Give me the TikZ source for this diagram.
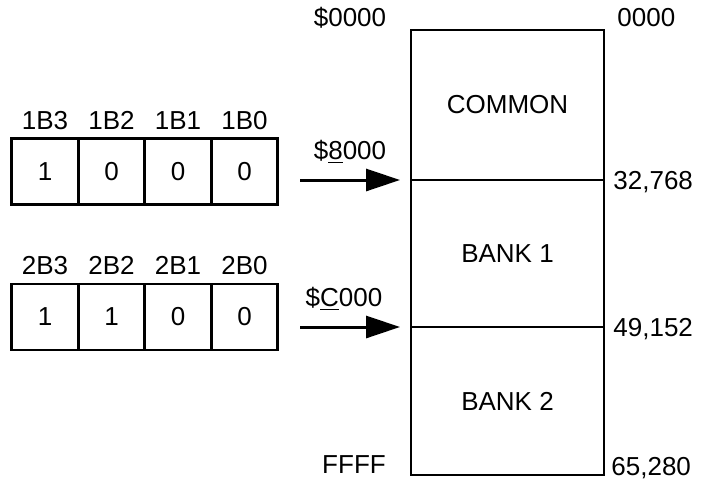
\documentclass[tikz,border=0pt]{standalone}
\usepackage{fontspec}
\setmainfont{Liberation Sans}
\usetikzlibrary{arrows.meta, positioning}

\begin{document}
\begin{tikzpicture}[
    x=0.5pt, y=-0.5pt,
    font=\fontsize{13}{15}\selectfont,
    bit/.style={rectangle, draw, line width=1.3pt, outer sep=0pt, minimum width=33.25pt, minimum height=33pt, inner sep=0pt},
    bank/.style={rectangle, draw, line width=1.3pt, outer sep=0pt, minimum width=96.5pt, inner sep=0pt},
    lbl/.style={inner sep=0pt, text depth=0pt},
    addr/.style={inner sep=0pt, text depth=0pt, anchor=west},
    arrow/.style={-{Triangle[length=17pt, width=11pt]}, line width=1.5pt, shorten >=5.5pt}
]
\useasboundingbox (0,0) rectangle (704,481);

% memory map
\node[bank, minimum height=75pt] (common) at (507.5,105) {COMMON};
\node[bank, minimum height=73.5pt, below=0pt of common] (bank1) {BANK 1};
\node[bank, minimum height=74pt, below=0pt of bank1] (bank2) {BANK 2};

\node[lbl] (start) at (350,17) {\$0000};
\node[lbl] (end) at (354,465) {FFFF};
\node[addr] (d0) at (617,17) {0000};
\node[addr] (d1) at (613,180) {32,768};
\node[addr] (d2) at (613,327) {49,152};
\node[addr] (d3) at (611,466) {65,280};

% bank registers
\foreach \n/\v [count=\i from 0] in {3/1,2/0,1/0,0/0} {
  \node[bit] (r1b\n) at (45+66.5*\i,171.5) {\v};
  \node[lbl, above=4.5pt of r1b\n] (l1b\n) {1B\n};
}
\foreach \n/\v [count=\i from 0] in {3/1,2/1,1/0,0/0} {
  \node[bit] (r2b\n) at (45+66.5*\i,317) {\v};
  \node[lbl, above=4.5pt of r2b\n] (l2b\n) {2B\n};
}

% pointers
\coordinate (from1) at (300,180);
\coordinate (from2) at (300,327);
\node[lbl] (p1) at (350,150) {\$\underline{8}000};
\node[lbl] (p2) at (344,297) {\$\underline{C}000};
\draw[arrow] (from1) -- (bank1.north west);
\draw[arrow] (from2) -- (bank2.north west);

\end{tikzpicture}
\end{document}
